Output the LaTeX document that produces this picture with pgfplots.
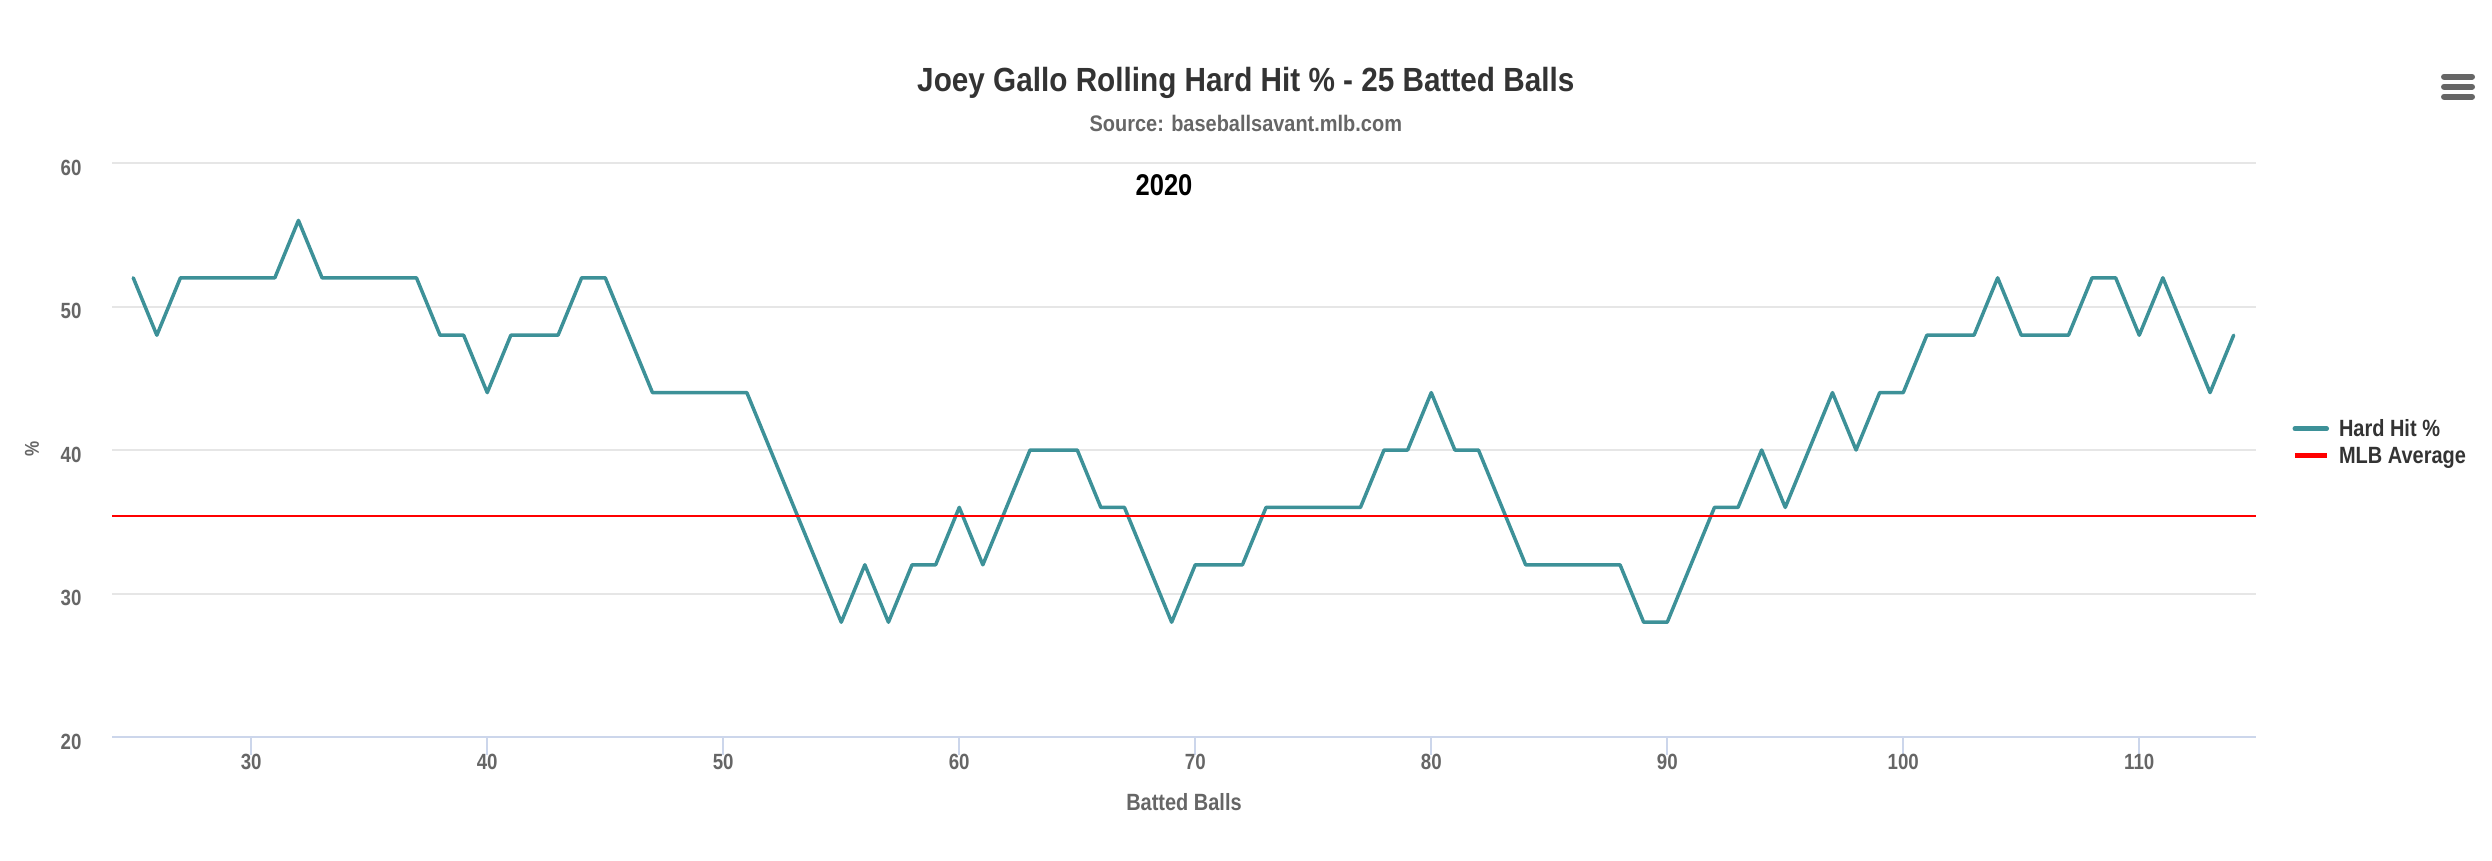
\documentclass[border=0pt]{standalone}
\usepackage{pgfplots}
\pgfplotsset{compat=1.18}
\usepackage{fontspec}
\setmainfont[FakeStretch=0.85]{Liberation Sans}
\newfontfamily\titlefont[FakeStretch=0.887]{Liberation Sans}
\definecolor{hh}{HTML}{3D9198}
\definecolor{gridc}{HTML}{E6E6E6}
\definecolor{axisc}{HTML}{CCD6EB}
\definecolor{lab}{HTML}{666666}
\definecolor{dark}{HTML}{333333}
\pgfplotstableread{
x y
25 52
26 48
27 52
28 52
29 52
30 52
31 52
32 56
33 52
34 52
35 52
36 52
37 52
38 48
39 48
40 44
41 48
42 48
43 48
44 52
45 52
46 48
47 44
48 44
49 44
50 44
51 44
52 40
53 36
54 32
55 28
56 32
57 28
58 32
59 32
60 36
61 32
62 36
63 40
64 40
65 40
66 36
67 36
68 32
69 28
70 32
71 32
72 32
73 36
74 36
75 36
76 36
77 36
78 40
79 40
80 44
81 40
82 40
83 36
84 32
85 32
86 32
87 32
88 32
89 28
90 28
91 32
92 36
93 36
94 40
95 36
96 40
97 44
98 40
99 44
100 44
101 48
102 48
103 48
104 52
105 48
106 48
107 48
108 52
109 52
110 48
111 52
112 48
113 44
114 48
}\hardhit
\pgfplotstableread{
x y
24.1 35.4
114.95 35.4
}\mlbavg
\begin{document}
\begin{tikzpicture}
\path[use as bounding box] (0pt,0pt) rectangle (2492pt,-860pt);
\begin{axis}[
  at={(112pt,-737pt)}, anchor=south west,
  width=2144pt, height=574pt, scale only axis,
  xmin=24.1, xmax=114.95, ymin=20, ymax=60,
  xtick={30,40,...,110}, ytick={20,30,...,60},
  /pgf/number format/assume math mode=true,
  axis x line*=bottom, axis y line*=left,
  x axis line style={-, draw=axisc, line width=2pt},
  y axis line style={draw=none},
  ymajorgrids, grid style={draw=gridc, line width=2pt},
  major tick length=18pt, tick align=outside,
  xtick style={draw=axisc, line width=2pt},
  ytick style={draw=none},
  tick label style={font=\fontsize{22pt}{26pt}\selectfont\bfseries, text=lab},
  xticklabel style={anchor=base, yshift=-14pt},
  yticklabel style={anchor=base east, yshift=-12pt, xshift=-9pt},
  legend style={at={(1.0169,0.514)}, anchor=west, draw=none, fill=none,
    font=\fontsize{23.5pt}{28pt}\selectfont\bfseries, text=dark,
    row sep=5pt, column sep=8pt, inner sep=0pt},
  legend cell align=left,
  legend image code/.code={\draw[#1, line width=4.5pt] (0pt,0pt) -- (32pt,0pt);},
]
\addplot[hh, line width=3.5pt, line join=round, line cap=round] table[x=x,y=y] {\hardhit};
\addlegendentry{Hard Hit \%}
\addplot[red, line width=2pt] table[x=x,y=y] {\mlbavg};
\addlegendentry{MLB Average}
\end{axis}
\node[anchor=base, font=\titlefont\fontsize{33.5pt}{40pt}\selectfont\bfseries, text=dark] at (1245.8pt,-91.7pt) {Joey Gallo Rolling Hard Hit \% - 25 Batted Balls};
\node[anchor=base, font=\titlefont\fontsize{22.5pt}{26pt}\selectfont\bfseries, text=lab] at (1245.8pt,-131.7pt) {Source: baseballsavant.mlb.com};
\node[anchor=base, font=\fontsize{30pt}{34pt}\selectfont\bfseries, text=black] at (1164pt,-195pt) {2020};
\node[anchor=base, font=\fontsize{23.5pt}{28pt}\selectfont\bfseries, text=lab] at (1184pt,-810.7pt) {Batted Balls};
\node[rotate=90, font=\fontsize{20pt}{24pt}\selectfont\bfseries, text=lab] at (32pt,-449pt) {\%};
\foreach \yy in {76.7,86.7,96.7} {\draw[lab, line width=6pt, line cap=round] (2444pt,-\yy pt) -- (2472pt,-\yy pt);}
\end{tikzpicture}
\end{document}
